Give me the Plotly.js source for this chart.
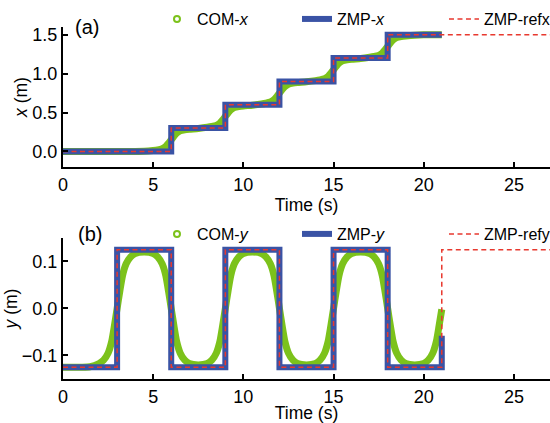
<!DOCTYPE html>
<html>
<head>
<meta charset="utf-8">
<script src="https://cdn.plot.ly/plotly-3.0.1.min.js"></script>
<style>html,body{margin:0;padding:0;background:#fff;}#chart{width:550px;height:423px;}</style>
</head>
<body>
<div id="chart"></div>
<script>
// ---------- data ----------
// (a) x-direction
const comXTime = [0, 1, 2, 3, 4, 4.5, 5.0, 5.25, 5.5, 5.7, 5.85,
  6.0, 6.15, 6.3, 6.5, 6.75, 7.0, 7.5, 8.0, 8.25, 8.5, 8.7, 8.85,
  9.0, 9.15, 9.3, 9.5, 9.75, 10.0, 10.5, 11.0, 11.25, 11.5, 11.7, 11.85,
  12.0, 12.15, 12.3, 12.5, 12.75, 13.0, 13.5, 14.0, 14.25, 14.5, 14.7, 14.85,
  15.0, 15.15, 15.3, 15.5, 15.75, 16.0, 16.5, 17.0, 17.25, 17.5, 17.7, 17.85,
  18.0, 18.15, 18.3, 18.5, 18.75, 19.0, 19.5, 20.0, 20.5, 21.0];
const comX = [0, 0, 0, 0, 0, 0.002, 0.012, 0.02, 0.035, 0.065, 0.105,
  0.15, 0.195, 0.235, 0.265, 0.278, 0.285, 0.295, 0.31, 0.32, 0.335, 0.365, 0.405,
  0.45, 0.495, 0.535, 0.565, 0.578, 0.585, 0.595, 0.61, 0.62, 0.635, 0.665, 0.705,
  0.75, 0.795, 0.835, 0.865, 0.878, 0.885, 0.895, 0.91, 0.92, 0.935, 0.965, 1.005,
  1.05, 1.095, 1.135, 1.165, 1.178, 1.185, 1.195, 1.21, 1.22, 1.235, 1.265, 1.305,
  1.35, 1.395, 1.435, 1.465, 1.478, 1.485, 1.495, 1.5, 1.5, 1.5];
const zmpXTime = [0, 6, 6, 9, 9, 12, 12, 15, 15, 18, 18, 21];
const zmpX     = [0, 0, 0.3, 0.3, 0.6, 0.6, 0.9, 0.9, 1.2, 1.2, 1.5, 1.5];
const refXTime = [0, 6, 6, 9, 9, 12, 12, 15, 15, 18, 18, 27];
const refX     = [0, 0, 0.3, 0.3, 0.6, 0.6, 0.9, 0.9, 1.2, 1.2, 1.5, 1.5];

// (b) y-direction
const comYTime = [0, 1, 1.5, 2.0, 2.25, 2.5, 2.7, 2.85,
  3.0, 3.15, 3.3, 3.5, 3.75, 4.0, 4.5, 5.0, 5.25, 5.5, 5.7, 5.85,
  6.0, 6.15, 6.3, 6.5, 6.75, 7.0, 7.5, 8.0, 8.25, 8.5, 8.7, 8.85,
  9.0, 9.15, 9.3, 9.5, 9.75, 10.0, 10.5, 11.0, 11.25, 11.5, 11.7, 11.85,
  12.0, 12.15, 12.3, 12.5, 12.75, 13.0, 13.5, 14.0, 14.25, 14.5, 14.7, 14.85,
  15.0, 15.15, 15.3, 15.5, 15.75, 16.0, 16.5, 17.0, 17.25, 17.5, 17.7, 17.85,
  18.0, 18.15, 18.3, 18.5, 18.75, 19.0, 19.5, 20.0, 20.25, 20.5, 20.7, 20.85, 21.0];
const comY = [-0.125, -0.125, -0.124, -0.117, -0.11, -0.095, -0.07, -0.037,
  0, 0.037, 0.07, 0.095, 0.11, 0.117, 0.12, 0.117, 0.11, 0.095, 0.07, 0.037,
  0, -0.037, -0.07, -0.095, -0.11, -0.117, -0.12, -0.117, -0.11, -0.095, -0.07, -0.037,
  0, 0.037, 0.07, 0.095, 0.11, 0.117, 0.12, 0.117, 0.11, 0.095, 0.07, 0.037,
  0, -0.037, -0.07, -0.095, -0.11, -0.117, -0.12, -0.117, -0.11, -0.095, -0.07, -0.037,
  0, 0.037, 0.07, 0.095, 0.11, 0.117, 0.12, 0.117, 0.11, 0.095, 0.07, 0.037,
  0, -0.037, -0.07, -0.095, -0.11, -0.117, -0.12, -0.117, -0.11, -0.095, -0.07, -0.037, -0.002];
const zmpYTime = [0, 3, 3, 6, 6, 9, 9, 12, 12, 15, 15, 18, 18, 21, 21];
const zmpY     = [-0.125, -0.125, 0.125, 0.125, -0.125, -0.125, 0.125, 0.125, -0.125, -0.125, 0.125, 0.125, -0.125, -0.125, -0.058];
const refYTime = [0, 3, 3, 6, 6, 9, 9, 12, 12, 15, 15, 18, 18, 21, 21, 27];
const refY     = [-0.125, -0.125, 0.125, 0.125, -0.125, -0.125, 0.125, 0.125, -0.125, -0.125, 0.125, 0.125, -0.125, -0.125, 0.125, 0.125];

const xTickVals = [0, 5, 10, 15, 20, 25];

// ---------- styles ----------
const GREEN = '#7cc21b', BLUE = '#3a53a5', RED = '#e8392f';
const FONT = 'Liberation Sans, Arial, Helvetica, sans-serif';

function traces(t, com, zt, z, rt, r, ax, comName, zmpName, refName, leg) {
  return [
    {x: t, y: com, xaxis: ax[0], yaxis: ax[1], mode: 'lines', showlegend: false,
     line: {color: GREEN, width: 7, shape: 'spline', smoothing: 0.6}, hoverinfo: 'skip'},
    {x: [null], y: [null], xaxis: ax[0], yaxis: ax[1], mode: 'markers', name: comName, legend: leg,
     legendwidth: 95,
     marker: {symbol: 'circle-open', size: 6, color: GREEN, line: {width: 2, color: GREEN}}},
    {x: zt, y: z, xaxis: ax[0], yaxis: ax[1], mode: 'lines', name: zmpName, legend: leg,
     legendwidth: 102, line: {color: BLUE, width: 6}},
    {x: rt, y: r, xaxis: ax[0], yaxis: ax[1], mode: 'lines', name: refName, legend: leg,
     line: {color: RED, width: 1.5, dash: '5px,3.5px'}}
  ];
}

const data = [].concat(
  traces(comXTime, comX, zmpXTime, zmpX, refXTime, refX, ['x', 'y'],
         'COM-<i>x</i>', 'ZMP-<i>x</i>', 'ZMP-refx', 'legend'),
  traces(comYTime, comY, zmpYTime, zmpY, refYTime, refY, ['x2', 'y2'],
         'COM-<i>y</i>', 'ZMP-<i>y</i>', 'ZMP-refy', 'legend2')
);

const axisCommon = {
  showline: true, linecolor: '#000', linewidth: 2, mirror: false,
  ticks: 'inside', ticklen: 5, tickwidth: 2, tickcolor: '#000',
  showgrid: false, zeroline: false,
  tickfont: {family: FONT, size: 18, color: '#000'}
};
const xCommon = Object.assign({}, axisCommon, {
  range: [0, 27], tickvals: xTickVals, ticktext: xTickVals.map(String),
  title: {text: 'Time (s)', font: {family: FONT, size: 17.5, color: '#000'}, standoff: 0}
});

const legendCommon = {
  orientation: 'h', xanchor: 'left', yanchor: 'middle', x: 0.193,
  font: {family: FONT, size: 16, color: '#000'}, bgcolor: 'rgba(0,0,0,0)', borderwidth: 0,
  itemclick: false, itemdoubleclick: false
};

const layout = {
  width: 550, height: 423,
  margin: {l: 63, r: 0, t: 0, b: 0, autoexpand: false},
  paper_bgcolor: '#fff', plot_bgcolor: '#fff',
  font: {family: FONT, color: '#000'},
  showlegend: true,
  xaxis: Object.assign({}, xCommon, {domain: [0, 1], anchor: 'y'}),
  yaxis: Object.assign({}, axisCommon, {domain: [0.6052, 0.9362], anchor: 'x',
    range: [-0.2, 1.6], tickvals: [0, 0.5, 1.0, 1.5], tickformat: '.1f',
    title: {text: '<i>x</i> (m)', font: {family: FONT, size: 17.5, color: '#000'}, standoff: 0}}),
  xaxis2: Object.assign({}, xCommon, {domain: [0, 1], anchor: 'y2'}),
  yaxis2: Object.assign({}, axisCommon, {domain: [0.104, 0.4374], anchor: 'x2',
    range: [-0.15, 0.15], tickvals: [-0.1, 0, 0.1], tickformat: '.1f',
    title: {text: '<i>y</i> (m)', font: {family: FONT, size: 17.5, color: '#000'}, standoff: 0}}),
  legend: Object.assign({}, legendCommon, {y: 0.955}),
  legend2: Object.assign({}, legendCommon, {y: 0.4468}),
  annotations: [
    {text: '(a)', xref: 'paper', yref: 'paper', x: 0.049, y: 0.935, showarrow: false,
     xanchor: 'center', yanchor: 'middle', font: {family: FONT, size: 20, color: '#000'}},
    {text: '(b)', xref: 'paper', yref: 'paper', x: 0.055, y: 0.447, showarrow: false,
     xanchor: 'center', yanchor: 'middle', font: {family: FONT, size: 20, color: '#000'}}
  ]
};

Plotly.newPlot('chart', data, layout, {displayModeBar: false, staticPlot: true});
</script>
</body>
</html>
